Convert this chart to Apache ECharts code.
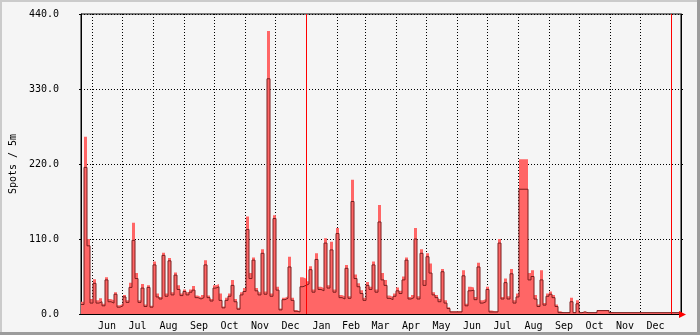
<!DOCTYPE html>
<html><head><meta charset="utf-8">
<script src="https://cdn.jsdelivr.net/npm/echarts@6/dist/echarts.min.js"></script>
<style>html,body{margin:0;padding:0;background:#f5f5f5}#c{width:700px;height:335px}</style>
</head><body><div id="c"></div>
<script>
// ---- data (3-day bins starting 2009-05-21) ----
const startYMD = [2009, 4, 21];
const binDays = 3;
const totalDays = 600;
const maxVals = [
  18,260,110,22,51,20,23,15,54,22,
  20,32,13,15,28,20,46,134,60,20,
  44,14,42,12,77,30,25,90,30,82,
  32,61,42,30,36,32,36,41,27,25,
  28,79,27,22,42,44,30,11,24,30,
  50,22,9,32,38,143,60,83,38,32,
  95,33,415,30,145,40,8,24,26,84,
  24,6,4,54,52,48,70,36,89,40,
  38,111,42,106,36,126,28,26,72,26,
  197,58,45,35,24,47,40,77,36,160,
  60,50,27,25,30,39,34,55,83,25,
  28,126,26,95,50,89,74,32,28,22,
  66,20,10,4,4,4,4,64,15,40,
  39,25,75,20,22,40,5,4,4,110,
  25,52,26,66,20,30,227,227,227,60,
  64,28,14,64,16,30,33,28,14,4,
  2,2,3,24,3,20,2,4,2,2,
  2,2,6,6,6,6,3,2,2,2,
  2,2,2,2,2,2,2,2,2,2,
  2,2,2,2,2,2,2,2,2,2
];
const avgVals = [
  14,215,100,16,45,16,18,12,50,18,
  16,29,10,12,25,17,39,108,52,17,
  38,11,39,10,72,25,22,86,26,78,
  28,57,36,27,33,28,32,35,24,22,
  24,72,24,19,38,40,20,9,20,26,
  42,18,7,28,33,124,52,79,34,28,
  89,29,345,26,140,35,6,21,23,69,
  20,4,3,40,42,44,65,32,80,36,
  34,104,38,94,32,118,24,22,67,23,
  165,52,40,30,20,42,36,72,32,135,
  50,42,23,21,26,34,30,50,79,22,
  24,110,22,89,42,84,60,28,24,18,
  62,16,8,3,3,3,3,56,12,34,
  35,21,69,16,18,36,3,3,3,104,
  22,46,22,59,16,25,183,183,183,50,
  55,22,11,50,13,26,29,24,11,2,
  2,2,2,18,2,15,2,3,2,2,
  2,2,5,5,5,5,2,2,2,2,
  2,2,2,2,2,2,2,2,2,2,
  2,2,2,2,2,2,2,2,2,2
];
const monthStarts = [
  [2009,5],[2009,6],[2009,7],[2009,8],[2009,9],[2009,10],[2009,11],
  [2010,0],[2010,1],[2010,2],[2010,3],[2010,4],[2010,5],[2010,6],[2010,7],[2010,8],[2010,9],[2010,10],[2010,11],
  [2011,0]
];
const monthLabels = ['Jun','Jul','Aug','Sep','Oct','Nov','Dec','Jan','Feb','Mar','Apr','May','Jun','Jul','Aug','Sep','Oct','Nov','Dec'];
const yearRules = [[2010,0],[2011,0]];
const yMax = 440, yStep = 110;
const yTitle = 'Spots / 5m';

// ---- build ----
const t0 = Date.UTC(startYMD[0], startYMD[1], startYMD[2]);
const dayOf = (ym) => (Date.UTC(ym[0], ym[1], 1) - t0) / 864e5;
const startDays = monthStarts.map(dayOf);
const midDays = monthLabels.map((_, i) => (startDays[i] + startDays[i + 1]) / 2);
const labelMap = {};
midDays.forEach((d, i) => { labelMap[String(d)] = monthLabels[i]; });
const toSeries = (arr) => {
  const d = arr.map((v, i) => [i * binDays, v]);
  d.push([totalDays, arr[arr.length - 1]]);
  return d;
};
const FONT = 'DejaVu Sans Mono';
const chart = echarts.init(document.getElementById('c'), null, {renderer: 'canvas'});
chart.setOption({
  animation: false,
  backgroundColor: '#f5f5f5',
  grid: {left: 81, top: 14, right: 19, bottom: 21, show: true, borderColor: '#000', borderWidth: 1, backgroundColor: 'transparent'},
  xAxis: {
    type: 'value', min: 0, max: totalDays,
    axisLine: {show: true, lineStyle: {color: '#000', width: 1}},
    axisTick: {show: false, customValues: startDays},
    splitLine: {show: true, lineStyle: {color: '#000', type: [1, 2], width: 1}},
    axisLabel: {customValues: midDays, formatter: (v) => labelMap[String(v)] || '', color: '#000', fontFamily: FONT, fontSize: 10, margin: 7}
  },
  yAxis: [{
    type: 'value', min: 0, max: yMax, interval: yStep,
    name: yTitle, nameLocation: 'middle', nameRotate: 90, nameGap: 60,
    nameTextStyle: {color: '#000', fontFamily: FONT, fontSize: 10},
    axisLine: {show: true, lineStyle: {color: '#000', width: 1}},
    axisTick: {show: true, length: 2, lineStyle: {color: '#000'}},
    splitLine: {show: true, lineStyle: {color: '#000', type: [1, 2], width: 1}},
    axisLabel: {formatter: (v) => v.toFixed(1), color: '#000', fontFamily: FONT, fontSize: 10, margin: 22}
  }, {
    type: 'value', min: 0, max: yMax, interval: yStep, position: 'right',
    axisLine: {show: true, lineStyle: {color: '#000', width: 1}},
    axisTick: {show: true, length: 2, lineStyle: {color: '#000'}},
    splitLine: {show: false},
    axisLabel: {show: false}
  }],
  series: [{
    type: 'line', step: 'end', symbol: 'none', data: toSeries(maxVals),
    lineStyle: {width: 0, color: '#ff6666'}, areaStyle: {color: '#ff6666', opacity: 1}, z: 2
  }, {
    type: 'line', step: 'end', symbol: 'none', data: toSeries(avgVals),
    lineStyle: {width: 1, color: '#7a1f1f'}, z: 3,
    markLine: {
      silent: true, symbol: 'none', label: {show: false},
      lineStyle: {color: '#ff0000', type: 'solid', width: 1},
      data: yearRules.map((ym) => ({xAxis: dayOf(ym)}))
    }
  }],
  graphic: [
    {type: 'rect', shape: {x: 0, y: 0, width: 700, height: 2}, style: {fill: '#cbcbcb'}},
    {type: 'rect', shape: {x: 0, y: 0, width: 2, height: 335}, style: {fill: '#cbcbcb'}},
    {type: 'rect', shape: {x: 0, y: 332, width: 700, height: 3}, style: {fill: '#9c9c9c'}},
    {type: 'rect', shape: {x: 697, y: 0, width: 3, height: 335}, style: {fill: '#9c9c9c'}},
    {type: 'polygon', shape: {points: [[679, 311], [686, 314.5], [679, 318]]}, style: {fill: '#ff0000'}, z: 100}
  ]
});
</script></body></html>
